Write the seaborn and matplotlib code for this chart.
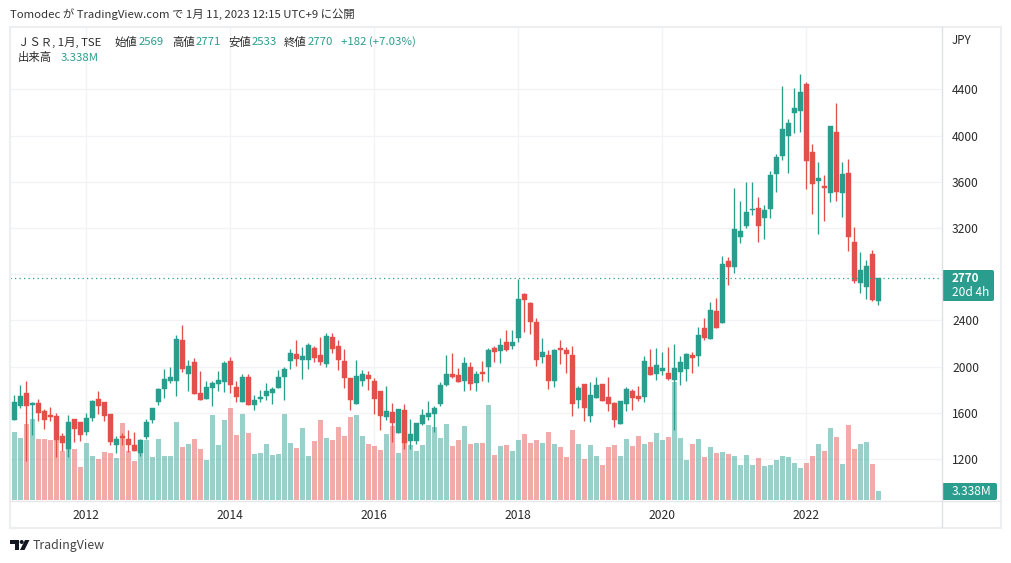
import matplotlib
matplotlib.use("Agg")
import matplotlib.pyplot as plt
from matplotlib.patches import Rectangle, Polygon, Circle, FancyBboxPatch
import pandas as pd
import seaborn as sns

# Monthly bars, Jan 2011 .. Jan 2023
opens = [1541,1656,1771,1668,1685,1616,1581,1572,1399,1287,1546,1520,1434,1555,1720,1694,1590,1321,1399,1373,1321,1252,1390,1538,
         1694,1806,1875,1875,2230,1936,2040,1771,1720,1815,1849,1867,2048,1823,1693,1910,1667,1719,1745,1771,1815,1910,2048,2109,
         2057,2057,2161,2100,2022,2256,2178,2048,1901,1676,1875,1927,1875,1789,1564,1607,1425,1624,1356,1356,1503,1564,1590,1676,
         1840,1936,1927,1875,1996,1858,1953,1996,2161,2135,2213,2178,2247,2628,2550,2386,2083,2100,1875,2161,2143,2100,1710,1849,
         1572,1728,1849,1736,1684,1503,1676,1788,1745,1736,1996,1936,1962,1944,1884,1950,1979,2100,2092,2334,2239,2481,2377,2914,
         2862,3122,3217,3356,3373,3287,3365,3668,3823,3997,4196,4213,4447,3858,3607,3564,3503,4031,3503,3676,3079,2724,2689,2975,2569]
highs = [1754,1841,1875,1696,1720,1633,1650,1598,1425,1581,1546,1520,1598,1711,1789,1694,1590,1399,1425,1451,1434,1373,1546,1642,
         1815,1979,1997,2274,2360,2057,2074,1962,1875,1875,1962,2048,2083,1875,1936,1936,1754,1797,1858,1823,1971,1996,2152,2230,
         2170,2204,2178,2256,2291,2291,2230,2152,1901,2057,1971,1962,1901,1789,1832,1685,1633,1676,1546,1512,1633,1702,1659,1867,
         2100,2117,1987,2083,2039,1961,2048,2161,2178,2247,2316,2316,2758,2637,2559,2420,2247,2143,2152,2230,2169,2178,1832,1849,
         1866,1910,1849,1910,1693,1702,1823,1806,1832,2091,2152,2161,2126,2169,2195,2092,2118,2126,2343,2421,2559,2594,2957,2949,
         3546,3434,3598,3598,3468,3399,3694,3841,4429,4144,4412,4533,4464,3927,3771,3659,4083,4282,3771,3797,3209,2992,2923,3010,2771]
lows = [1535,1644,1183,1408,1529,1460,1529,1217,1269,1217,1347,1356,1408,1529,1590,1529,1321,1252,1321,1261,1269,1226,1373,1512,
        1668,1728,1858,1745,1953,1789,1763,1711,1720,1659,1789,1780,1771,1694,1693,1667,1624,1693,1711,1676,1815,1711,1979,2005,
        1893,1979,2040,2014,1996,2118,1971,1815,1624,1676,1832,1797,1590,1451,1538,1347,1425,1287,1287,1330,1494,1538,1434,1659,
        1832,1901,1866,1788,1797,1788,1875,1866,2039,2031,2135,2152,2213,2299,2282,2005,2031,1806,1823,2022,1944,1572,1641,1529,
        1520,1728,1702,1615,1477,1503,1615,1624,1702,1693,1927,1884,1927,1884,1451,1840,1875,1944,2005,2230,2239,2334,2377,2706,
        2810,3070,3200,3312,3079,3105,3287,3512,3789,3676,4022,4031,3538,3321,3148,3261,3425,3434,3295,3001,2724,2637,2585,2568,2533]
closes = [1691,1745,1659,1685,1601,1541,1564,1365,1341,1520,1463,1408,1555,1702,1659,1572,1347,1373,1382,1321,1269,1365,1520,1642,
          1806,1893,1910,2239,1979,2005,1763,1711,1823,1858,1884,2031,1841,1737,1910,1667,1711,1737,1789,1806,1910,1979,2118,2066,
          2092,2187,2074,2040,2265,2152,2057,1901,1711,1919,1936,1893,1719,1572,1616,1512,1633,1338,1416,1512,1581,1598,1642,1841,
          1936,1910,1866,2031,1849,1936,1936,2143,2126,2187,2143,2213,2585,2576,2386,2057,2126,1875,2143,2143,2109,1676,1814,1641,
          1754,1840,1702,1676,1537,1702,1806,1728,1719,2048,1927,2013,1988,1892,1988,2040,2109,2074,2273,2247,2490,2334,2888,2862,
          3191,3174,3338,3364,3217,3356,3659,3815,4057,4109,4239,4378,3780,3581,3633,3546,4083,3512,3668,3122,2741,2836,2871,2577,2770]
volumes_m = [24.5,22.3,27.3,29.1,22.0,22.0,21.6,22.0,17.7,18.4,18.4,11.9,20.5,15.9,14.8,17.3,16.9,15.2,27.7,17.7,14.1,21.6,21.6,15.5,
             22.0,15.9,15.9,28.0,19.1,20.2,22.0,18.4,14.4,30.5,19.8,28.8,33.0,23.4,30.9,24.1,16.6,16.9,20.2,16.2,16.6,30.9,20.5,18.7,
             25.9,15.9,21.2,28.8,22.3,21.6,26.2,23.0,29.8,30.5,23.0,20.2,19.4,18.0,23.7,26.6,16.9,20.5,19.8,17.7,19.8,27.0,26.2,22.3,
             27.3,19.4,21.6,26.6,20.2,20.5,20.5,34.1,16.2,19.4,19.8,17.7,21.6,23.7,20.5,21.6,20.5,24.5,20.2,19.1,15.5,25.2,20.2,14.8,
             19.8,15.9,12.6,19.1,19.8,15.9,22.0,19.4,23.0,20.2,20.9,24.1,21.6,22.7,42.4,22.2,14.3,20.0,21.8,15.4,19.0,16.8,17.2,16.5,
             15.7,12.5,16.1,12.5,15.0,12.3,12.6,14.4,15.9,15.5,13.4,11.6,13.4,15.9,20.2,17.7,25.9,22.7,13.0,27.0,18.4,20.2,20.9,13.0,3.338]
prev_month_volume_m = 27.7          # Dec 2010, only a sliver is visible
first_year = 2011
year_ticks = [2012, 2014, 2016, 2018, 2020, 2022]
price_ticks = [1200, 1600, 2000, 2400, 2800, 3200, 3600, 4000, 4400]
price_labels = ["1200", "1600", "2000", "2400", "", "3200", "3600", "4000", "4400"]
last_price = 2770

TEAL = "#2A9D8F"
RED = "#E2504C"
GRID = "#F1F3F6"
FRAME = "#EDEEF0"
DIV = "#DFE1E5"
INK = "#2B2B2B"

sns.set_theme(style="white")
plt.rcParams["font.family"] = ["Noto Sans CJK JP", "DejaVu Sans"]

W, H = 1012, 563
fig = plt.figure(figsize=(W / 100, H / 100), dpi=100, facecolor="white")

def px_axes(l, t, r, b):
    return [l / W, 1 - b / H, (r - l) / W, (b - t) / H]

rect = px_axes(10, 27, 942, 500)
xlim = (-0.717, 154.6)
price_lim = (845, 4940)
vol_lim = (0, 169.3)

df = pd.DataFrame({"month": range(len(opens)), "open": opens, "high": highs,
                   "low": lows, "close": closes, "vol": volumes_m})
df.loc[-1] = [-1, 0, 0, 0, 1, prev_month_volume_m]
df = df.sort_index()
df["dir"] = ["up" if c >= o else "down" for o, c in zip(df["open"], df["close"])]
candles = df[df["month"] >= 0]

# price axis: grid and ticks
ax = fig.add_axes(rect, zorder=1, facecolor="white")
ax.set_xlim(*xlim)
ax.set_ylim(*price_lim)
ax.yaxis.tick_right()
ax.set_yticks(price_ticks, price_labels)
year_pos = [(y - first_year) * 12 for y in year_ticks]
ax.set_xticks(year_pos, [str(y) for y in year_ticks])
ax.tick_params(axis="both", length=0, labelsize=8.7, labelcolor=INK)
ax.tick_params(axis="y", pad=7.2)
ax.tick_params(axis="x", pad=6.5)
ax.grid(True, color=GRID, linewidth=0.9)
ax.set_axisbelow(True)
for s in ax.spines.values():
    s.set_visible(False)

# volume bars
axv = fig.add_axes(rect, zorder=2)
axv.patch.set_visible(False)
sns.barplot(data=df, x="month", y="vol", hue="dir", palette={"up": TEAL, "down": RED},
            native_scale=True, dodge=False, width=0.83, saturation=1, alpha=0.47,
            linewidth=0, legend=False, ax=axv)
axv.set_xlim(*xlim)
axv.set_ylim(*vol_lim)
axv.axis("off")

# candles
axc = fig.add_axes(rect, zorder=3)
axc.patch.set_visible(False)
colors = [TEAL if d == "up" else RED for d in candles["dir"]]
axc.vlines(candles["month"], candles["low"], candles["high"], colors=colors, linewidth=0.95)
axc.bar(candles["month"], candles["close"] - candles["open"], bottom=candles["open"],
        width=0.83, color=colors, linewidth=0.3, edgecolor=colors)
axc.axhline(last_price, color=TEAL, linewidth=0.9, linestyle=(0, (1, 2.6)))
axc.set_xlim(*xlim)
axc.set_ylim(*price_lim)
axc.axis("off")

# overlay in pixel coordinates: frame, header, tags, logo
ov = fig.add_axes([0, 0, 1, 1], zorder=10)
ov.patch.set_visible(False)
ov.set_xlim(0, W)
ov.set_ylim(H, 0)
ov.axis("off")

ov.add_patch(Rectangle((10, 27), 991.5, 500.5, fill=False, edgecolor=FRAME, linewidth=1.5))
ov.plot([10, 1001], [500.5, 500.5], color="#E6E8EC", linewidth=1)
ov.plot([942, 942], [27, 527], color=DIV, linewidth=1)

FS = 8.2
def t(x, y, s, color=INK, size=FS, **kw):
    ov.text(x, y, s, color=color, fontsize=size, va="center", ha=kw.pop("ha", "left"), **kw)

t(10, 14, "Tomodec が TradingView.com で 1月 11, 2023 12:15 UTC+9 に公開", color="#333333")
t(18, 42, "ＪＳＲ, 1月, TSE")
for x, s in [(115, "始値"), (172, "高値"), (228, "安値"), (284, "終値")]:
    t(x, 42, s)
for x, s in [(139, "2569"), (196, "2771"), (252, "2533"), (308, "2770"), (341, "+182 (+7.03%)")]:
    t(x, 42, s, color=TEAL)
t(18, 58, "出来高")
t(61, 58, "3.338M", color=TEAL)
t(952, 41, "JPY", size=8.4)

ov.add_patch(FancyBboxPatch((942, 270), 52, 31, boxstyle="round,pad=0,rounding_size=2",
                            facecolor=TEAL, edgecolor="none"))
t(952, 278, "2770", color="white", fontweight="bold", size=8.4)
t(952, 292, "20d 4h", color="white", size=8.6)
ov.add_patch(FancyBboxPatch((942, 483), 55, 17, boxstyle="round,pad=0,rounding_size=2",
                            facecolor=TEAL, edgecolor="none"))
t(952, 491.5, "3.338M", color="white", size=8.7)

LOGO = "#131722"
ov.add_patch(Polygon([(10, 540), (19, 540), (19, 550), (15, 550), (15, 544), (10, 544)], color=LOGO, lw=0))
ov.add_patch(Circle((21.7, 542), 2, color=LOGO, lw=0))
ov.add_patch(Polygon([(25, 540), (29.5, 540), (24.5, 550), (20, 550)], color=LOGO, lw=0))
t(33, 545, "TradingView", color="#444444", size=8.9)

fig.savefig("out.png", dpi=100, facecolor="white")
